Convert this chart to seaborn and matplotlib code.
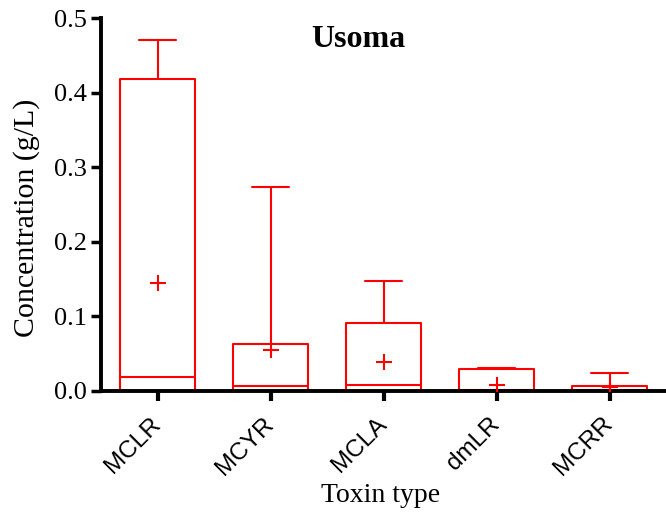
import matplotlib
matplotlib.use("Agg")
import matplotlib.pyplot as plt
import seaborn as sns
import pandas as pd

# Summary statistics per toxin (g/L)
toxins = ["MCLR", "MCYR", "MCLA", "dmLR", "MCRR"]
mins = [0.0, 0.0, 0.0, 0.0, 0.0]
q1 = [0.0, 0.0, 0.0, 0.0, 0.0]
medians = [0.019, 0.006, 0.008, 0.001, 0.001]
q3 = [0.418, 0.063, 0.091, 0.029, 0.007]
maxs = [0.471, 0.273, 0.147, 0.031, 0.024]
means = [0.145, 0.055, 0.039, 0.008, 0.005]

sns.set_theme(style="ticks", rc={"text.color": "black", "axes.labelcolor": "black",
                                 "xtick.color": "black", "ytick.color": "black",
                                 "axes.edgecolor": "black"})
plt.rcParams["font.family"] = ["Liberation Serif", "DejaVu Serif"]

fig = plt.figure(figsize=(6.66, 5.17), dpi=100)
ax = fig.add_axes([0.152, 0.244, 0.848, 0.721])

red = "#ff0000"
stats = []
for name, lo, a, m, b, hi in zip(toxins, mins, q1, medians, q3, maxs):
    stats.append(dict(label=name, whislo=lo, q1=a, med=m, q3=b, whishi=hi, fliers=[]))

lw = 1.5
ax.bxp(stats, positions=range(len(toxins)), widths=0.66, capwidths=0.33,
       showfliers=False, patch_artist=False,
       boxprops=dict(color=red, linewidth=lw),
       medianprops=dict(color=red, linewidth=lw),
       whiskerprops=dict(color=red, linewidth=lw),
       capprops=dict(color=red, linewidth=lw))

mean_df = pd.DataFrame({"pos": range(len(toxins)), "mean": means})
sns.scatterplot(data=mean_df, x="pos", y="mean", marker="+", s=130,
                color=red, linewidth=1.5, ax=ax, zorder=5)

ax.set_xlim(-0.5, 4.5)
ax.set_ylim(0, 0.5)
ax.set_yticks([0.0, 0.1, 0.2, 0.3, 0.4, 0.5])
ax.set_yticklabels(["0.0", "0.1", "0.2", "0.3", "0.4", "0.5"], fontsize=19)
ax.set_xticks(range(len(toxins)))
ax.set_xticklabels(toxins, rotation=45, ha="right", va="center",
                   rotation_mode="anchor", fontsize=17.5,
                   family=["Liberation Sans", "DejaVu Sans"])

for s in ["top", "right"]:
    ax.spines[s].set_visible(False)
for s in ["left", "bottom"]:
    ax.spines[s].set_linewidth(2.8)
ax.tick_params(axis="y", length=7, width=2.5, pad=3)
ax.tick_params(axis="x", length=7.5, width=3, pad=14)

ax.set_ylabel("Concentration (g/L)", fontsize=21.5)
ax.yaxis.set_label_coords(-0.108, 0.464)
ax.set_xlabel("Toxin type", fontsize=20)
ax.xaxis.set_label_coords(0.494, -0.247)
ax.text(0.455, 0.922, "Usoma", transform=ax.transAxes, ha="center", va="baseline",
        fontsize=23, fontweight="bold")

fig.savefig("out.png", dpi=100)
